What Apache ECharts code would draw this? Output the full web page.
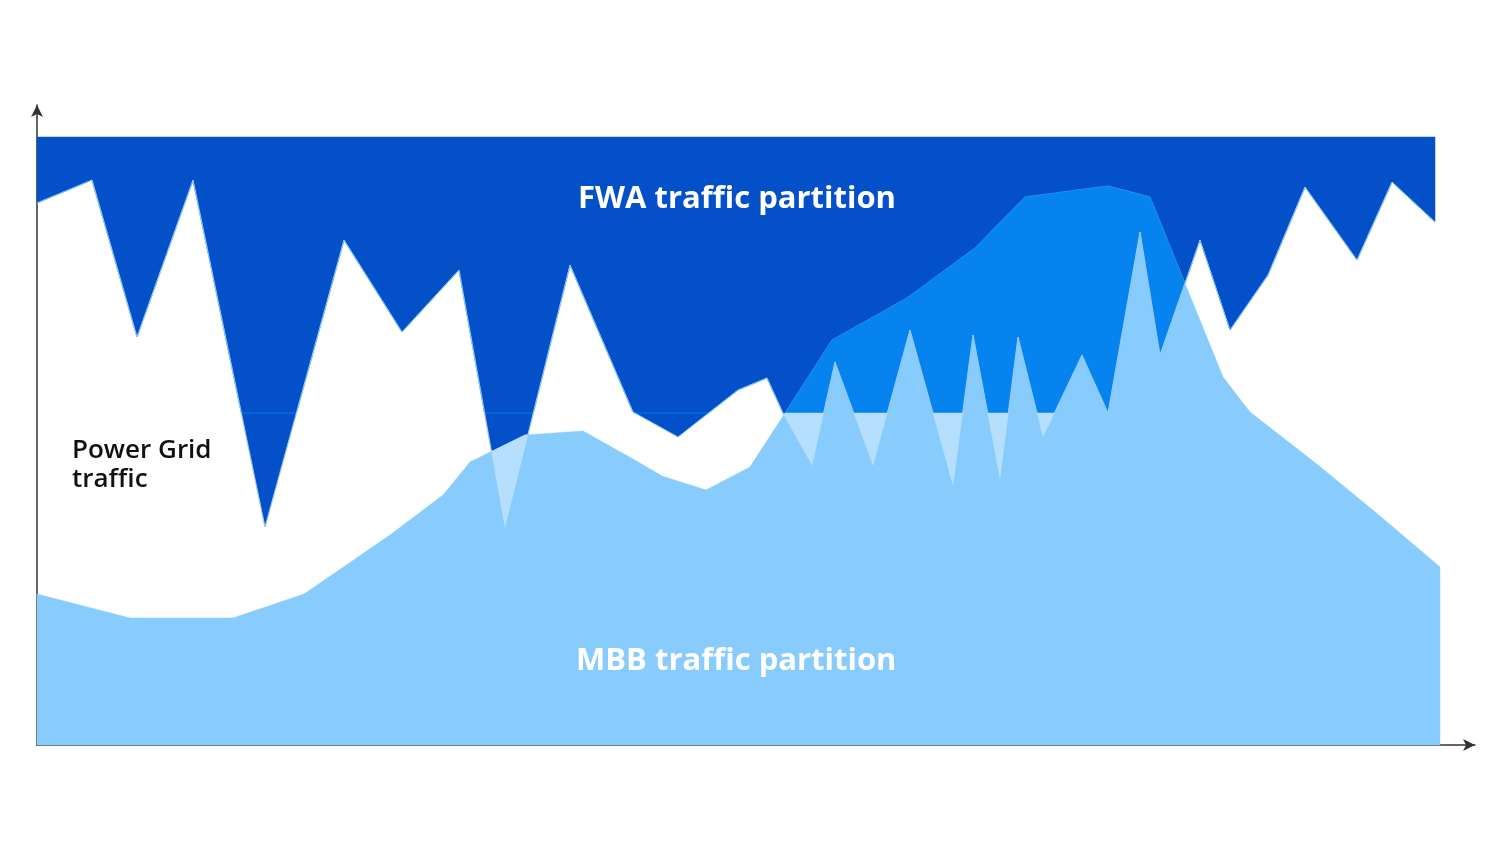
<!DOCTYPE html>
<html>
<head>
<meta charset="utf-8">
<script src="https://cdn.jsdelivr.net/npm/echarts@6/dist/echarts.min.js"></script>
<style>html,body{margin:0;padding:0;background:#fff}#chart{width:1496px;height:842px}</style>
</head>
<body>
<div id="chart"></div>
<script>
// FWA lower boundary (FWA occupies everything above it, up to fwaTop)
var fwaX = [37, 92, 137, 193, 265, 344, 402, 459, 505, 570, 633, 678, 738, 767, 783, 812, 835, 873, 910, 953, 973, 1000, 1018, 1043, 1082, 1108, 1140, 1160, 1200, 1230, 1268, 1305, 1357, 1392, 1435];
var fwaY = [542, 565, 408, 565, 218, 505, 413, 475, 218, 480, 333, 308, 355, 367, 332, 280, 383, 280, 415, 260, 410, 267, 408, 308, 390, 332, 513, 390, 505, 415, 470, 558, 485, 563, 523];
// MBB upper boundary (MBB occupies everything below it)
var mbbX = [37, 130, 233, 304, 390, 443, 470, 525, 583, 633, 662, 706, 750, 785, 832, 907, 975, 1025, 1108, 1150, 1223, 1250, 1318, 1380, 1440];
var mbbY = [151, 127, 127, 151, 210, 250, 283, 310, 314, 286, 269, 255, 278, 332, 405, 447, 497, 548, 559, 548, 368, 333, 280, 229, 178];
var fwaTop = 608;
var splitLevel = 332;

var colors = { fwa: '#0450c8', mid: '#0683ee', mbb: '#88ccfd', pale: '#b6dffe' };

function at(xs, ys, x) {
  for (var i = 0; i < xs.length - 1; i++) {
    if (x >= xs[i] && x <= xs[i + 1]) {
      var t = (x - xs[i]) / (xs[i + 1] - xs[i]);
      return ys[i] + t * (ys[i + 1] - ys[i]);
    }
  }
  return null;
}

// breakpoints shared by both boundaries, plus the crossings between them
var lo = Math.max(fwaX[0], mbbX[0]), hi = Math.min(fwaX[fwaX.length - 1], mbbX[mbbX.length - 1]);
var xs = fwaX.concat(mbbX).filter(function (x) { return x >= lo && x <= hi; });
xs = Array.from(new Set(xs)).sort(function (a, b) { return a - b; });
var extra = [];
for (var i = 0; i < xs.length - 1; i++) {
  var a = xs[i], b = xs[i + 1];
  var fa = at(fwaX, fwaY, a), fb = at(fwaX, fwaY, b), ma = at(mbbX, mbbY, a), mb = at(mbbX, mbbY, b);
  [[fa - ma, fb - mb], [fa - splitLevel, fb - splitLevel], [ma - splitLevel, mb - splitLevel]].forEach(function (d) {
    if (d[0] * d[1] < 0) extra.push(a + (b - a) * d[0] / (d[0] - d[1]));
  });
}
xs = xs.concat(extra).sort(function (a, b) { return a - b; });

// bands as [x, lower, upper]
var fwaBand = fwaX.map(function (x, i) { return [x, fwaY[i], fwaTop]; });
var mbbBand = mbbX.map(function (x, i) { return [x, 0, mbbY[i]]; });
var midBand = [], paleBand = [];
xs.forEach(function (x) {
  var f = at(fwaX, fwaY, x), m = at(mbbX, mbbY, x);
  var b1 = Math.max(f, splitLevel);
  midBand.push([x, b1, Math.max(b1, m)]);
  paleBand.push([x, f, Math.max(f, Math.min(m, splitLevel))]);
});

function band(name, data, color, z) {
  return {
    name: name, type: 'custom', data: data, silent: true, z: z,
    renderItem: function (params, api) {
      if (params.dataIndex !== 0) return;
      var top = data.map(function (d) { return api.coord([d[0], d[2]]); });
      var bottom = data.map(function (d) { return api.coord([d[0], d[1]]); }).reverse();
      return { type: 'polygon', shape: { points: top.concat(bottom) }, style: { fill: color, stroke: color, lineWidth: 0.5 } };
    }
  };
}

var chart = echarts.init(document.getElementById('chart'));
chart.setOption({
  animation: false,
  grid: { left: 37, right: 21, top: 105, bottom: 97 },
  xAxis: {
    type: 'value', min: 37, max: 1475,
    axisLine: { show: true, lineStyle: { color: '#333', width: 1.5 }, symbol: ['none', 'arrow'], symbolSize: [9, 12] },
    axisTick: { show: false }, axisLabel: { show: false }, splitLine: { show: false }
  },
  yAxis: {
    type: 'value', min: 0, max: 640,
    axisLine: { show: true, lineStyle: { color: '#333', width: 1.5 }, symbol: ['none', 'arrow'], symbolSize: [9, 12] },
    axisTick: { show: false }, axisLabel: { show: false }, splitLine: { show: false }
  },
  series: [
    band('FWA', fwaBand, colors.fwa, 1),
    band('MBB', mbbBand, colors.mbb, 2),
    band('overlapHigh', midBand, colors.mid, 3),
    band('overlapLow', paleBand, colors.pale, 4)
  ],
  graphic: [
    { type: 'text', left: 578, top: 184, z: 100, style: { text: 'FWA traffic partition', fill: '#fff', font: 'bold 31px "Open Sans", sans-serif' } },
    { type: 'text', left: 576, top: 646, z: 100, style: { text: 'MBB traffic partition', fill: '#fff', font: 'bold 31px "Open Sans", sans-serif' } },
    { type: 'text', left: 72, top: 436, z: 100, style: { text: 'Power Grid\ntraffic', fill: '#111', font: '600 26px "Open Sans", sans-serif', lineHeight: 29 } }
  ]
});
window.addEventListener('resize', function () { chart.resize(); });
</script>
</body>
</html>
